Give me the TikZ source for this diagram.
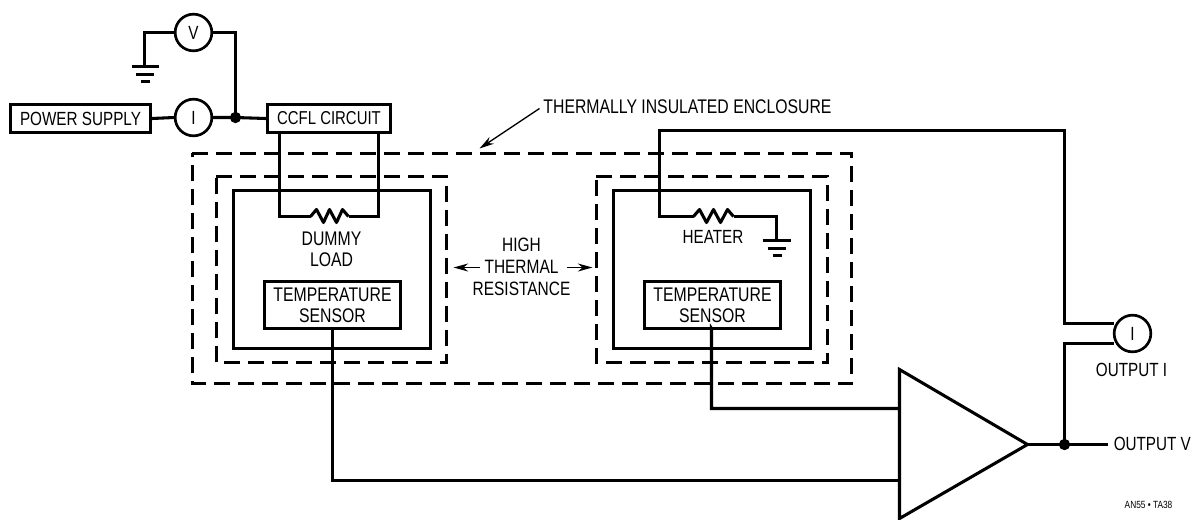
\documentclass[tikz,border=0pt]{standalone}
\usepackage{fontspec}
\setmainfont[FakeStretch=0.80]{Liberation Sans}
\usetikzlibrary{arrows.meta}
\newcommand{\pxl}{0.75pt}
\newcommand{\fa}{\fontsize{14.8pt}{17pt}\selectfont}
\newcommand{\fb}{\fontsize{14.3pt}{17pt}\selectfont}
\newcommand{\fc}{\fontsize{14pt}{17pt}\selectfont}
\tikzset{
  wire/.style={line width=2.3pt,line join=miter,line cap=butt},
  thinarrow/.style={line width=1pt,-{Stealth[length=11pt,width=6pt]}},
  lab/.style={font=\fa,align=center,inner sep=0pt},
  boxn/.style={draw,line width=2.3pt,inner sep=0pt,font=\fa,align=center,fill=white},
  meter/.style={draw,circle,line width=2pt,inner sep=0pt,minimum size=27.5pt,font=\fb,fill=white},
  dashline/.style={line cap=butt,dash pattern=on 12pt off 6pt,line width=2.3pt},
  solidbox/.style={draw,line width=2.3pt,inner sep=0pt},
  jdot/.style={circle,fill=black,inner sep=0pt,minimum size=8.5pt},
  gndl/.style={line width=2.3pt},
}
\begin{document}
\begin{tikzpicture}[x=\pxl,y=-\pxl]
\useasboundingbox (0,0) rectangle (1192,519);
\begin{scope}[shift={(0.5,0.5)}]
% enclosures
\node[inner sep=0pt,minimum width=659*\pxl,minimum height=230*\pxl] (outer) at (521.5,268) {};
\node[inner sep=0pt,minimum width=230*\pxl,minimum height=186*\pxl] (midL) at (331,269) {};
\node[inner sep=0pt,minimum width=231*\pxl,minimum height=186*\pxl] (midR) at (711.5,269) {};
\draw[dashline] (outer.north west) -- (outer.north east) -- (outer.south east) -- (outer.south west) -- cycle;
\draw[dashline] (midL.north west) -- (midL.north east) -- (midL.south east) -- (midL.south west) -- cycle;
\draw[dashline] (midR.north west) -- (midR.north east) -- (midR.south east) -- (midR.south west) -- cycle;
\node[solidbox,minimum width=197*\pxl,minimum height=158*\pxl] (innL) at (331.5,269) {};
\node[solidbox,minimum width=197*\pxl,minimum height=158*\pxl] (innR) at (711.5,269) {};
% boxes
\node[boxn,font=\fb,minimum width=140*\pxl,minimum height=28*\pxl] (ps) at (80,118) {POWER SUPPLY};
\node[boxn,font=\fc,minimum width=123*\pxl,minimum height=28*\pxl] (ccfl) at (328.5,118) {CCFL CIRCUIT};
\node[boxn,minimum width=136*\pxl,minimum height=47*\pxl] (tsL) at (332,304.5) {TEMPERATURE\\[-1pt]SENSOR};
\node[boxn,minimum width=136*\pxl,minimum height=47*\pxl] (tsR) at (712,304.5) {TEMPERATURE\\[-1pt]SENSOR};
\node[meter] (V) at (193,32) {V};
\node[meter] (I) at (193,117) {I};
\node[meter] (IO) at (1132,333) {I};
% helper points
\coordinate (j1p) at (235,117);
\coordinate (j2p) at (1064,444);
\coordinate (g1) at (144,66);
\coordinate (g2) at (776,240);
\coordinate (cL) at (279,132);
\coordinate (cR) at (378,132);
\coordinate (r1a) at (310,216);
\coordinate (r1b) at (348,216);
\coordinate (r2a) at (693,216);
\coordinate (r2b) at (733,216);
\coordinate (outV) at (1107,444);
\coordinate (ampT) at (899,369);
\coordinate (ampB) at (899,518);
\coordinate (ampO) at (1027,444);
% wires
\draw[wire] (ps.east) -- (I.west);
\draw[wire] (I.east) -- (j1p) -- (ccfl.west);
\draw[wire] (V.west) -- (144,32) -- (g1);
\draw[wire] (V.east) -- (235,32) -- (j1p);
\draw[wire] (cL) -- (279,216) -- (r1a);
\draw[wire] (cR) -- (378,216) -- (r1b);
\draw[wire,line join=round] (r1a) -- (316,209) -- (323,222) -- (329,209) -- (336,222) -- (342,209) -- (r1b);
\draw[wire] (1113,323) -- (1064,323) -- (1064,130) -- (659,130) -- (659,216) -- (r2a);
\draw[wire,line join=round] (r2a) -- (699,209) -- (706,222) -- (713,209) -- (720,222) -- (727,209) -- (r2b);
\draw[wire] (r2b) -- (776,216) -- (g2);
\draw[wire] (1113,343) -- (1064,343) -- (j2p);
\draw[wire] (tsL.south) -- (332,480) -- (899,480);
\draw[wire] (tsR.south) -- (711,328) -- (711,408) -- (899,408);
\draw[wire] (ampO) -- (j2p) -- (outV);
\draw[wire,line join=miter,fill=white] (ampT) -- (ampO) -- (ampB) -- cycle;
\node[jdot] (j1) at (j1p) {};
\node[jdot] (j2) at (j2p) {};
% grounds
\draw[gndl] (131,66) -- (158,66) (135.5,74) -- (153.5,74) (140,81) -- (149,81);
\draw[gndl] (762,240) -- (790,240) (767,248) -- (785,248) (772,255) -- (781,255);
% labels
\node[lab] (tie) at (687,106.5) {THERMALLY INSULATED ENCLOSURE};
\coordinate (tiearrow) at (539,108);
\coordinate (tieend) at (479,148);
\draw[thinarrow] (tiearrow) -- (tieend);
\node[lab] (dummy) at (331,249) {DUMMY\\[-1pt]LOAD};
\node[lab,font=\fb] (heater) at (712.5,236.5) {HEATER};
\node[lab,font=\fontsize{14.5pt}{17pt}\selectfont] (hi) at (521,266.5) {HIGH\\[-0.5pt]THERMAL\\[-0.5pt]RESISTANCE};
\coordinate (a1s) at (479,267);
\coordinate (a1e) at (453,267);
\coordinate (a2s) at (566,267);
\coordinate (a2e) at (592,267);
\draw[thinarrow] (a1s) -- (a1e);
\draw[thinarrow] (a2s) -- (a2e);
\node[lab,font=\fb] (oi) at (1131,369.5) {OUTPUT I};
\node[lab,font=\fb,anchor=west] (ov) at (1113,443.5) {OUTPUT V};
\node[lab,font=\fontsize{7.8pt}{9pt}\selectfont] (ta) at (1148,504) {AN55 • TA38};
\end{scope}
\end{tikzpicture}
\end{document}
